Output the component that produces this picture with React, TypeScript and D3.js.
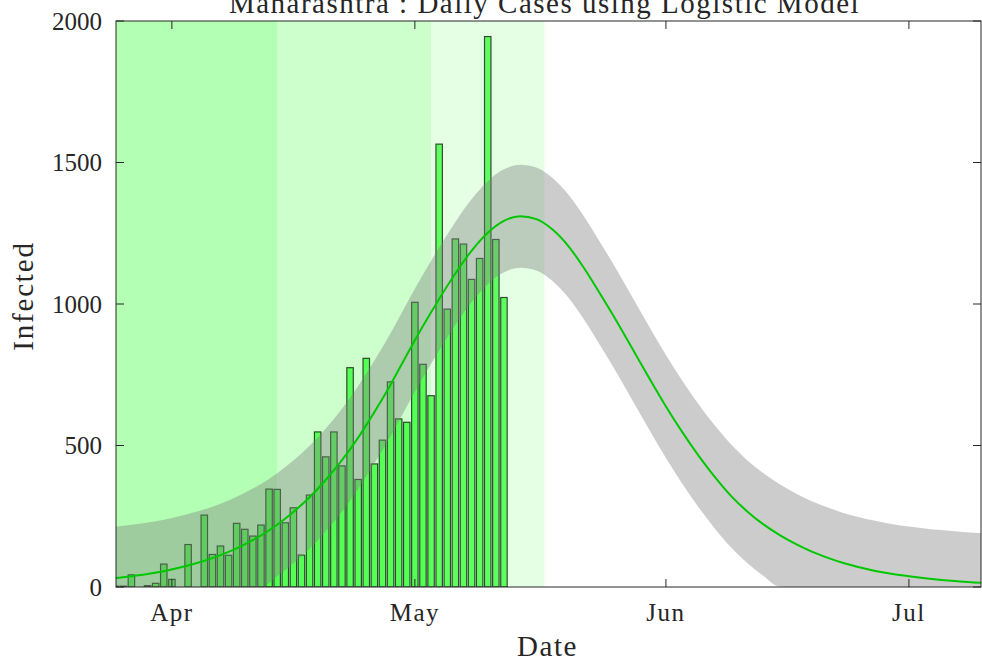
import React from 'react';
import * as d3 from 'd3';

// ---------- data ----------
const BAR_DATES = [
  '2020-03-25','2020-03-26','2020-03-27','2020-03-28','2020-03-29','2020-03-30','2020-03-31',
  '2020-04-01','2020-04-02','2020-04-03','2020-04-04','2020-04-05','2020-04-06','2020-04-07',
  '2020-04-08','2020-04-09','2020-04-10','2020-04-11','2020-04-12','2020-04-13','2020-04-14',
  '2020-04-15','2020-04-16','2020-04-17','2020-04-18','2020-04-19','2020-04-20','2020-04-21',
  '2020-04-22','2020-04-23','2020-04-24','2020-04-25','2020-04-26','2020-04-27','2020-04-28',
  '2020-04-29','2020-04-30','2020-05-01','2020-05-02','2020-05-03','2020-05-04','2020-05-05',
  '2020-05-06','2020-05-07','2020-05-08','2020-05-09','2020-05-10','2020-05-11','2020-05-12',
];
const DAILY_CASES = [
  3, 3, 43, 0, 5, 13, 81,
  27, 0, 150, 0, 254, 115, 145,
  112, 225, 204, 180, 219, 346, 345,
  227, 280, 113, 325, 548, 460, 548,
  428, 775, 380, 808, 435, 519, 725,
  594, 582, 1006, 787, 676, 1565, 982,
  1230, 1212, 1087, 1161, 1945, 1228, 1023,
];

// model curve, days after 1 April 2020
const CURVE_DAY = [
  -7, -5, -3, -1, 1, 3, 5, 7, 9, 11, 13, 15, 17, 19, 21, 23, 25, 27, 29, 31, 33, 35, 37, 39, 41, 43,
  45, 47, 49, 51, 53, 55, 57, 59, 61, 63, 65, 67, 69, 71, 73, 75, 77, 79, 81, 83, 85, 87, 89, 91, 93,
  95, 97, 99, 100,
];
const CURVE_FIT = [
  31, 38, 46, 56, 69, 84, 102, 124, 151, 182, 220, 265, 317, 378, 448, 528, 618, 715, 820, 922, 1018,
  1108, 1188, 1252, 1294, 1310, 1300, 1263, 1203, 1122, 1030, 935, 835, 735, 638, 548, 465, 390, 323,
  268, 222, 184, 152, 125, 103, 84, 69, 56, 46, 38, 31, 25, 20, 16, 15,
];
const CURVE_UPPER = [
  213, 220, 228, 238, 251, 266, 284, 306, 333, 364, 402, 447, 499, 560, 630, 710, 800, 897, 1002, 1104,
  1200, 1290, 1370, 1434, 1476, 1492, 1482, 1445, 1385, 1304, 1212, 1117, 1017, 917, 820, 730, 647,
  572, 505, 449, 403, 364, 331, 303, 281, 261, 246, 233, 222, 214, 207, 201, 196, 192, 191,
];
const CURVE_LOWER = [
  0, 0, 0, 0, 0, 0, 0, 0, 0, 0, 38, 83, 135, 196, 266, 346, 436, 533, 638, 740, 836, 926, 1006, 1070,
  1112, 1128, 1118, 1081, 1021, 940, 848, 753, 653, 553, 456, 366, 283, 208, 141, 86, 40, 2, 0, 0, 0,
  0, 0, 0, 0, 0, 0, 0, 0, 0, 0,
];

// lockdown phases
const PHASE_START = ['2020-03-24', '2020-04-14', '2020-05-03'];
const PHASE_END = ['2020-04-14', '2020-05-03', '2020-05-17'];
const PHASE_COLOR = ['#b3ffb3', '#ccffcc', '#e5ffe5'];

const Y_TICKS = [0, 500, 1000, 1500, 2000];
const X_TICK_DATES = ['2020-04-01', '2020-05-01', '2020-06-01', '2020-07-01'];
const X_TICK_LABELS = ['Apr', 'May', 'Jun', 'Jul'];

const TITLE = 'Maharashtra : Daily Cases using Logistic Model';
const X_LABEL = 'Date';
const Y_LABEL = 'Infected';

// ---------- layout ----------
const W = 982;
const H = 661;
const L = 116;
const R = 981;
const T = 21;
const B = 587;
const DAY = 86400000;
const FONT = '"Liberation Serif", "Times New Roman", serif';
const INK = '#262626';

const parse = (s: string) => new Date(s + 'T00:00:00Z');
const APR1 = parse('2020-04-01').getTime();

export default function App() {
  const x = d3
    .scaleUtc()
    .domain([new Date(APR1 - 6.9 * DAY), new Date(APR1 + 99.9 * DAY)])
    .range([L, R]);
  const y = d3.scaleLinear().domain([0, 2000]).range([B, T]);

  const curvePts = CURVE_DAY.map((d, i) => ({
    t: new Date(APR1 + d * DAY),
    v: CURVE_FIT[i],
    hi: CURVE_UPPER[i],
    lo: CURVE_LOWER[i],
  }));

  const area = d3
    .area<any>()
    .x((d) => x(d.t))
    .y0((d) => y(d.lo))
    .y1((d) => y(d.hi))
    .curve(d3.curveMonotoneX);
  const line = d3
    .line<any>()
    .x((d) => x(d.t))
    .y((d) => y(d.v))
    .curve(d3.curveMonotoneX);

  const barW = 0.8 * DAY;

  return (
    <svg
      width={W}
      height={H}
      style={{ position: 'absolute', left: 0, top: 0, display: 'block', background: '#fff' }}
      fontFamily={FONT}
    >
      <defs>
        <clipPath id="plot">
          <rect x={L} y={T} width={R - L} height={B - T} />
        </clipPath>
      </defs>
      <g clipPath="url(#plot)">
        {PHASE_START.map((s, i) => {
          const x0 = Math.max(L, x(parse(s)));
          const x1 = x(parse(PHASE_END[i]));
          return <rect key={s} x={x0} y={T} width={x1 - x0} height={B - T} fill={PHASE_COLOR[i]} />;
        })}
        {BAR_DATES.map((s, i) => {
          const c = parse(s).getTime();
          const x0 = x(new Date(c - barW / 2));
          const x1 = x(new Date(c + barW / 2));
          const y0 = y(DAILY_CASES[i]);
          return (
            <rect
              key={s}
              x={x0}
              y={y0}
              width={x1 - x0}
              height={B - y0}
              fill="#00ff00"
              fillOpacity={0.58}
              stroke="#000"
              strokeOpacity={0.7}
              strokeWidth={1.2}
            />
          );
        })}
        <path d={area(curvePts) || ''} fill="#808080" fillOpacity={0.4} />
        <path d={line(curvePts) || ''} fill="none" stroke="#00c800" strokeWidth={2} />
      </g>

      {/* axes box */}
      <rect x={L} y={T} width={R - L} height={B - T} fill="none" stroke={INK} strokeWidth={1} />
      {Y_TICKS.map((v) => (
        <g key={v}>
          <line x1={L} x2={L + 8} y1={y(v)} y2={y(v)} stroke={INK} />
          <line x1={R - 8} x2={R} y1={y(v)} y2={y(v)} stroke={INK} />
          <text
            x={L - 14}
            y={y(v)}
            textAnchor="end"
            dominantBaseline="central"
            fontSize={25}
            fill={INK}
          >
            {v}
          </text>
        </g>
      ))}
      {X_TICK_DATES.map((s, i) => {
        const px = x(parse(s));
        return (
          <g key={s}>
            <line x1={px} x2={px} y1={B} y2={B - 8} stroke={INK} />
            <line x1={px} x2={px} y1={T} y2={T + 8} stroke={INK} />
            <text x={px} y={621} textAnchor="middle" fontSize={25} letterSpacing={1.5} fill={INK}>
              {X_TICK_LABELS[i]}
            </text>
          </g>
        );
      })}
      <text x={(L + R) / 2 - 1} y={656} textAnchor="middle" fontSize={29} letterSpacing={1.6} fill={INK}>
        {X_LABEL}
      </text>
      <text
        transform={`translate(33, ${(T + B) / 2 - 8}) rotate(-90)`}
        textAnchor="middle"
        fontSize={29}
        letterSpacing={1.8}
        fill={INK}
      >
        {Y_LABEL}
      </text>
      <text x={(L + R) / 2 - 4} y={13} textAnchor="middle" fontSize={29} letterSpacing={1.5} fill={INK}>
        {TITLE}
      </text>
    </svg>
  );
}
